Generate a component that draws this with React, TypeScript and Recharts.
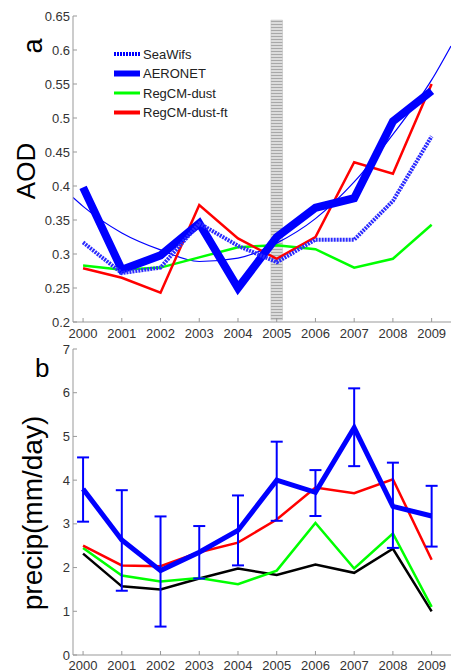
import { LineChart, Line, XAxis, YAxis, ReferenceArea, ErrorBar } from 'recharts';

const years = [2000, 2001, 2002, 2003, 2004, 2005, 2006, 2007, 2008, 2009];

// panel a: AOD
const seawifs = [0.317, 0.272, 0.28, 0.345, 0.312, 0.288, 0.321, 0.321, 0.378, 0.473];
const aeronet = [0.398, 0.277, 0.298, 0.345, 0.25, 0.325, 0.368, 0.382, 0.495, 0.54];
const regcmDust = [0.283, 0.277, 0.28, 0.295, 0.31, 0.313, 0.307, 0.28, 0.293, 0.343];
const regcmDustFt = [0.279, 0.265, 0.243, 0.372, 0.323, 0.293, 0.325, 0.435, 0.418, 0.55];
const fitYears = [1999.74, 2000, 2001, 2002, 2003, 2004, 2005, 2006, 2007, 2008, 2009, 2009.5];
const fitValues = [0.383, 0.37, 0.331, 0.306, 0.289, 0.294, 0.316, 0.352, 0.406, 0.476, 0.556, 0.606];
const aodTicks = [0.2, 0.25, 0.3, 0.35, 0.4, 0.45, 0.5, 0.55, 0.6, 0.65];

// panel b: precip
const obsPrecip = [3.8, 2.63, 1.93, 2.35, 2.85, 4.0, 3.72, 5.2, 3.4, 3.18];
const obsLow = [3.05, 1.47, 0.65, 1.75, 2.05, 3.07, 3.18, 4.32, 2.45, 2.48];
const obsHigh = [4.52, 3.77, 3.17, 2.95, 3.65, 4.88, 4.23, 6.1, 4.4, 3.87];
const precipFt = [2.5, 2.05, 2.03, 2.35, 2.57, 3.1, 3.83, 3.7, 4.02, 2.18];
const precipDust = [2.45, 1.82, 1.68, 1.76, 1.62, 1.93, 3.02, 1.98, 2.78, 1.1];
const precipBase = [2.32, 1.57, 1.5, 1.75, 1.98, 1.83, 2.07, 1.88, 2.43, 1.0];
const precipTicks = [0, 1, 2, 3, 4, 5, 6, 7];

const aodData = years.map((y, i) => ({
  year: y,
  seawifs: seawifs[i],
  aeronet: aeronet[i],
  dust: regcmDust[i],
  ft: regcmDustFt[i],
}));
const fitData = fitYears.map((y, i) => ({ year: y, fit: fitValues[i] }));

const precipData = years.map((y, i) => ({
  year: y,
  obs: obsPrecip[i],
  err: [obsPrecip[i] - obsLow[i], obsHigh[i] - obsPrecip[i]],
  ft: precipFt[i],
  dust: precipDust[i],
  base: precipBase[i],
}));

const font = 'Liberation Sans, Arial, sans-serif';
const tickStyle = { fill: '#333', fontSize: 13, fontFamily: font };
const axisColor = '#999';
const xDomain = [1999.74, 2009.5];

const legendItems = [
  { name: 'SeaWifs', color: '#0000ff', width: 4, dash: '2 1' },
  { name: 'AERONET', color: '#0000ff', width: 6, dash: undefined },
  { name: 'RegCM-dust', color: '#00ff00', width: 3, dash: undefined },
  { name: 'RegCM-dust-ft', color: '#ff0000', width: 4, dash: undefined },
];

export default function App() {
  return (
    <div style={{ position: 'absolute', left: 0, top: 0, width: 451, height: 671, background: '#fff', overflow: 'hidden', fontFamily: font }}>
      <div style={{ position: 'absolute', left: 0, top: 0 }}>
        <LineChart width={451} height={340} data={aodData} margin={{ top: 16, right: 0, left: 13, bottom: 0 }}>
          <defs>
            <pattern id="stripes" width="4" height="3" patternUnits="userSpaceOnUse">
              <rect width="4" height="3" fill="#dcdcdc" />
              <rect width="4" height="1" fill="#a8a8a8" />
            </pattern>
          </defs>
          <XAxis dataKey="year" type="number" domain={xDomain} ticks={years} allowDataOverflow
            height={18} tickSize={-4} tickMargin={11} stroke={axisColor} tick={tickStyle} interval={0} />
          <XAxis xAxisId="top" dataKey="year" type="number" domain={xDomain} ticks={years} allowDataOverflow
            orientation="top" height={0} tickSize={-4} tick={false} stroke={axisColor} />
          <YAxis type="number" domain={[0.2, 0.65]} ticks={aodTicks} width={60} tickSize={-4} tickMargin={7}
            stroke={axisColor} tick={tickStyle} tickFormatter={(v: number) => String(Number(v.toFixed(2)))} interval={0} />
          <ReferenceArea x1={2004.85} x2={2005.15} y1={0.203} y2={0.644} fill="url(#stripes)" fillOpacity={1} stroke="#bbb" strokeWidth={0.5} />
          <Line data={fitData} dataKey="fit" type="monotone" stroke="#0000ff" strokeWidth={1.2} dot={false} isAnimationActive={false} />
          <Line dataKey="dust" type="linear" stroke="#00ff00" strokeWidth={2.5} dot={false} isAnimationActive={false} />
          <Line dataKey="ft" type="linear" stroke="#ff0000" strokeWidth={2.5} dot={false} isAnimationActive={false} />
          <Line dataKey="aeronet" type="linear" stroke="#0000ff" strokeWidth={8} dot={false} isAnimationActive={false} />
          <Line dataKey="seawifs" type="linear" stroke="#2a2aff" strokeWidth={4} strokeDasharray="2 1" dot={false} isAnimationActive={false} />
        </LineChart>
      </div>

      <div style={{ position: 'absolute', left: 0, top: 340 }}>
        <LineChart width={451} height={331} data={precipData} margin={{ top: 9, right: 0, left: 13, bottom: 0 }}>
          <XAxis dataKey="year" type="number" domain={xDomain} ticks={years} allowDataOverflow
            height={16} tickSize={-4} tickMargin={10} stroke={axisColor} tick={tickStyle} interval={0} />
          <XAxis xAxisId="top" dataKey="year" type="number" domain={xDomain} ticks={years} allowDataOverflow
            orientation="top" height={0} tickSize={-4} tick={false} stroke={axisColor} />
          <YAxis type="number" domain={[0, 7]} ticks={precipTicks} width={60} tickSize={-4} tickMargin={7}
            stroke={axisColor} tick={tickStyle} interval={0} />
          <Line dataKey="base" type="linear" stroke="#000" strokeWidth={2.5} dot={false} isAnimationActive={false} />
          <Line dataKey="dust" type="linear" stroke="#00ff00" strokeWidth={2.5} dot={false} isAnimationActive={false} />
          <Line dataKey="ft" type="linear" stroke="#ff0000" strokeWidth={2.5} dot={false} isAnimationActive={false} />
          <Line dataKey="obs" type="linear" stroke="#0000ff" strokeWidth={5} dot={false} isAnimationActive={false}>
            <ErrorBar dataKey="err" direction="y" width={6} strokeWidth={2} stroke="#0000ff" />
          </Line>
        </LineChart>
      </div>

      <svg width={451} height={671} style={{ position: 'absolute', left: 0, top: 0, pointerEvents: 'none' }}>
        <text x={42} y={46} transform="rotate(-90 42 46)" textAnchor="middle" fontSize={27} fontFamily={font} fill="#000">a</text>
        <text x={35} y={171} transform="rotate(-90 35 171)" textAnchor="middle" fontSize={26} fontFamily={font} fill="#000">AOD</text>
        <text x={35} y={377} fontSize={26} fontFamily={font} fill="#000">b</text>
        <text x={42} y={513} transform="rotate(-90 42 513)" textAnchor="middle" fontSize={28} fontFamily={font} fill="#000">precip(mm/day)</text>
        {legendItems.map((item, i) => (
          <g key={item.name}>
            <line x1={114} x2={140} y1={54 + i * 19.5} y2={54 + i * 19.5} stroke={item.color} strokeWidth={item.width} strokeDasharray={item.dash} />
            <text x={143} y={54 + i * 19.5 + 4.5} fontSize={13} fontFamily={font} fill="#222">{item.name}</text>
          </g>
        ))}
      </svg>
    </div>
  );
}
